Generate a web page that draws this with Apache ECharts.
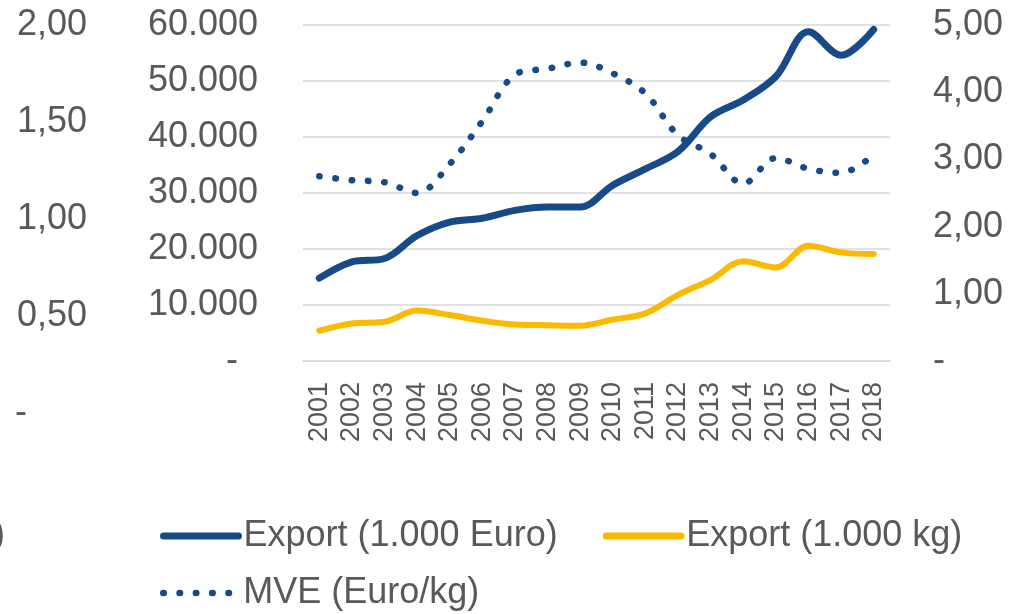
<!DOCTYPE html>
<html>
<head>
<meta charset="utf-8">
<script src="https://cdn.jsdelivr.net/npm/echarts@6/dist/echarts.min.js"></script>
<style>html,body{margin:0;padding:0;background:#fff}#c{width:1009px;height:614px}</style>
</head>
<body>
<div id="c"></div>
<script>
const years = ['2001','2002','2003','2004','2005','2006','2007','2008','2009','2010','2011','2012','2013','2014','2015','2016','2017','2018'];
const exportEuro = [14800, 17700, 18300, 22400, 24800, 25500, 26900, 27500, 27500, 31400, 34300, 37400, 43600, 46600, 50800, 58800, 54600, 59200];
const exportKg = [5400, 6700, 7000, 9000, 8200, 7200, 6500, 6400, 6300, 7400, 8500, 11800, 14500, 17800, 16700, 20600, 19400, 19100];
const mve = [2.75, 2.69, 2.66, 2.50, 2.93, 3.57, 4.26, 4.35, 4.44, 4.28, 3.98, 3.36, 3.08, 2.64, 3.02, 2.86, 2.80, 3.07];
const euroTickLabels = ['-  ', '10.000', '20.000', '30.000', '40.000', '50.000', '60.000'];
const mveTickLabels = ['-', '1,00', '2,00', '3,00', '4,00', '5,00'];
const strayTickLabels = ['-      ', '0,50', '1,00', '1,50', '2,00'];
const seriesNames = ['Export (1.000 Euro)', 'Export (1.000 kg)', 'MVE (Euro/kg)'];

const FONT = '"Liberation Sans", Arial, sans-serif';
const GREY = '#595959';
const BLUE = '#174A87';
const YELLOW = '#FBB900';

const chart = echarts.init(document.getElementById('c'));
chart.setOption({
  backgroundColor: '#ffffff',
  animation: false,
  textStyle: { fontFamily: FONT },
  grid: [
    { left: 303, right: 119, top: 25, bottom: 253, containLabel: false },
    { left: 95, width: 10, top: 25, height: 388, containLabel: false }
  ],
  xAxis: [
    {
      type: 'category', data: years, gridIndex: 0, boundaryGap: true,
      axisLine: { show: true, lineStyle: { color: '#d9d9d9', width: 1.5 } },
      axisTick: { show: false },
      axisLabel: { rotate: 90, margin: 21, fontSize: 27, color: GREY, fontFamily: FONT, interval: 0 }
    },
    { type: 'category', data: ['x'], gridIndex: 1, show: false }
  ],
  yAxis: [
    {
      type: 'value', gridIndex: 0, min: 0, max: 60000, interval: 10000, position: 'left',
      axisLine: { show: false }, axisTick: { show: false },
      splitLine: { show: true, lineStyle: { color: '#d9d9d9', width: 1.5 } },
      axisLabel: { margin: 45, fontSize: 36, color: GREY, fontFamily: FONT,
        formatter: v => euroTickLabels[Math.round(v / 10000)] }
    },
    {
      type: 'value', gridIndex: 0, min: 0, max: 5, interval: 1, position: 'right',
      axisLine: { show: false }, axisTick: { show: false }, splitLine: { show: false },
      axisLabel: { margin: 43, fontSize: 36, color: GREY, fontFamily: FONT,
        formatter: v => mveTickLabels[Math.round(v)] }
    },
    {
      type: 'value', gridIndex: 1, min: 0, max: 2, interval: 0.5, position: 'left',
      axisLine: { show: false }, axisTick: { show: false }, splitLine: { show: false },
      axisLabel: { margin: 8, fontSize: 36, color: GREY, fontFamily: FONT,
        formatter: v => strayTickLabels[Math.round(v / 0.5)] }
    }
  ],
  legend: [
    {
      data: [seriesNames[0], seriesNames[1]], left: 160, top: 518, padding: 0,
      itemWidth: 75, itemHeight: 14, itemGap: 45,
      itemStyle: { opacity: 0 },
      lineStyle: { width: 7, cap: 'round' },
      textStyle: { fontSize: 36, color: GREY, fontFamily: FONT }
    },
    {
      data: [seriesNames[2]], left: 160, top: 575, padding: 0,
      itemWidth: 75, itemHeight: 14,
      itemStyle: { opacity: 0 },
      lineStyle: { width: 6.5, cap: 'round' },
      textStyle: { fontSize: 36, color: GREY, fontFamily: FONT }
    }
  ],
  graphic: [
    { type: 'text', left: -7, top: 517, style: { text: ')', font: '36px ' + FONT, fill: GREY } }
  ],
  series: [
    {
      name: seriesNames[0], type: 'line', xAxisIndex: 0, yAxisIndex: 0, data: exportEuro,
      smooth: 0.35, symbol: 'none', showSymbol: false,
      lineStyle: { color: BLUE, width: 7, cap: 'round', join: 'round' }, itemStyle: { color: BLUE }
    },
    {
      name: seriesNames[1], type: 'line', xAxisIndex: 0, yAxisIndex: 0, data: exportKg,
      smooth: 0.35, symbol: 'none', showSymbol: false,
      lineStyle: { color: YELLOW, width: 6, cap: 'round', join: 'round' }, itemStyle: { color: YELLOW }
    },
    {
      name: seriesNames[2], type: 'line', xAxisIndex: 0, yAxisIndex: 1, data: mve,
      smooth: 0.35, symbol: 'none', showSymbol: false,
      lineStyle: { color: BLUE, width: 6.5, type: [0.5, 15.8], cap: 'round' }, itemStyle: { color: BLUE }
    }
  ]
});
</script>
</body>
</html>
